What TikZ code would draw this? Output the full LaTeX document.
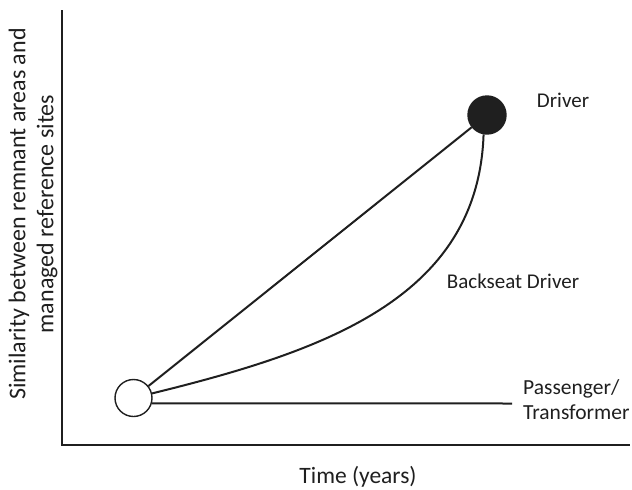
\documentclass[tikz,border=0pt]{standalone}
\usepackage{fontspec}
\setmainfont{Carlito}
\begin{document}
\begin{tikzpicture}[x=1pt,y=-1pt,
  axis/.style={line width=2pt, draw=black!88},
  conn/.style={line width=2pt, draw=black!88},
  stage/.style={circle, inner sep=0pt, minimum size=37pt, line width=1.4pt, draw=black!88},
  lab/.style={font=\fontsize{21}{25}\selectfont, text=black!88, inner sep=0pt}]
\useasboundingbox (0,0) rectangle (632,490);
\coordinate (ytop) at (62,10);
\coordinate (orig) at (62,445);
\coordinate (xend) at (630,445);
\draw[axis] (ytop) -- (orig) -- (xend);
\node[stage, fill=white] (o) at (133.5,398) {};
\node[stage, fill=black!88, minimum size=38pt] (d) at (487,115) {};
\coordinate (pe) at (512,403.5);
\draw[conn] (o) -- (d);
\draw[conn] (o) .. controls (320,352) and (478,300) .. (d.-100);
\draw[conn] (o.-16) -- (pe);
\node[lab] (ld) at (563,100) {Driver};
\node[lab] (lb) at (513,281) {Backseat Driver};
\node[lab, anchor=west, align=left, font=\fontsize{21.5}{25}\selectfont] (lp) at (523,400) {Passenger/\\Transformer};
\node[lab, font=\fontsize{23.5}{28}\selectfont] (lt) at (358,477) {Time (years)};
\node[lab, rotate=90, align=center, font=\fontsize{24}{28}\selectfont] (ly) at (33,214) {Similarity between remnant areas and\\managed reference sites};
\end{tikzpicture}
\end{document}
